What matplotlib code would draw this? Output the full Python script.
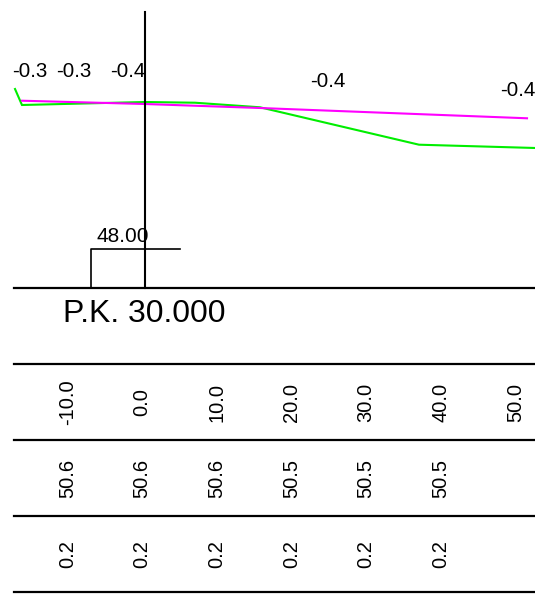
import matplotlib
matplotlib.use("Agg")
import matplotlib.pyplot as plt
import matplotlib.transforms as mtransforms

plt.rcParams['font.family'] = ['Liberation Sans', 'DejaVu Sans']

# ---- data ----
terrain_x = [-17.40, -16.47, 0.0, 6.69, 15.39, 36.68, 52.21]
terrain_z = [50.787, 50.563, 50.605, 50.595, 50.531, 50.007, 49.961]
design_x = [-16.47, 0.0, 15.39, 51.14]
design_z = [50.623, 50.577, 50.521, 50.377]

top_label_x = [-15.39, -9.50, -2.34, 24.50, 49.93]
top_label_z = [51.032, 51.032, 51.032, 50.889, 50.773]
top_labels = ["-0.3", "-0.3", "-0.4", "-0.4", "-0.4"]

datum = 48.00
title = "P.K. 30.000"

stations = [-10, 0, 10, 20, 30, 40, 50]
station_labels = ["-10.0", "0.0", "10.0", "20.0", "30.0", "40.0", "50.0"]
elev_labels = ["50.6", "50.6", "50.6", "50.5", "50.5", "50.5"]
diff_labels = ["0.2", "0.2", "0.2", "0.2", "0.2", "0.2"]

# ---- layout ----
W, H = 535, 595
fig = plt.figure(figsize=(W / 100, H / 100), dpi=100)
ax = fig.add_axes([0, 0, 1, 1])
hpx = 7.47   # px per metre horizontally
vpx = 71.4   # px per metre vertically
x0px, ydpx = 145, 288
ax.set_xlim(-x0px / hpx, (W - x0px) / hpx)
ax.set_ylim(datum - (H - ydpx) / vpx, datum + ydpx / vpx)
ax.axis('off')

def fy(py):
    return 1 - py / H

def ez(py):
    return datum + (ydpx - py) / vpx

blend = mtransforms.blended_transform_factory(ax.transData, ax.transAxes)

# profile lines
ax.plot(terrain_x, terrain_z, color='#00ee00', lw=1.5, solid_joinstyle='miter')
ax.plot(design_x, design_z, color='#ff00ff', lw=1.5)

# axis line
ax.plot([0, 0], [datum, ez(12)], color='black', lw=1.5)

# datum box
bx0, bx1 = (91 - x0px) / hpx, (180 - x0px) / hpx
ax.plot([bx0, bx0, bx1], [datum, ez(249), ez(249)], color='black', lw=1.2)
ax.text((123 - x0px) / hpx, ez(236), f"{datum:.2f}", ha='center', va='center', fontsize=15)

# labels on top
for x, z, s in zip(top_label_x, top_label_z, top_labels):
    ax.text(x, z, s, ha='center', va='center', fontsize=14.8)

# horizontal table lines
xl, xr = (14 - x0px) / hpx, (W - x0px) / hpx
for py in [288, 364, 440, 516, 592]:
    ax.plot([xl, xr], [fy(py)] * 2, color='black', lw=1.6, transform=blend)

ax.text(63 / W, fy(322), title, ha='left', va='baseline', fontsize=23, transform=ax.transAxes)

off = mtransforms.offset_copy(blend, fig=fig, x=-3, y=0, units='dots')
for x, s in zip(stations, station_labels):
    ax.text(x, fy(402), s, rotation=90, ha='center', va='center', fontsize=14.5, transform=off)
for x, s in zip(stations, elev_labels):
    ax.text(x, fy(478), s, rotation=90, ha='center', va='center', fontsize=14.5, transform=off)
for x, s in zip(stations, diff_labels):
    ax.text(x, fy(554), s, rotation=90, ha='center', va='center', fontsize=14.5, transform=off)

fig.savefig("out.png", dpi=100, facecolor='white')
